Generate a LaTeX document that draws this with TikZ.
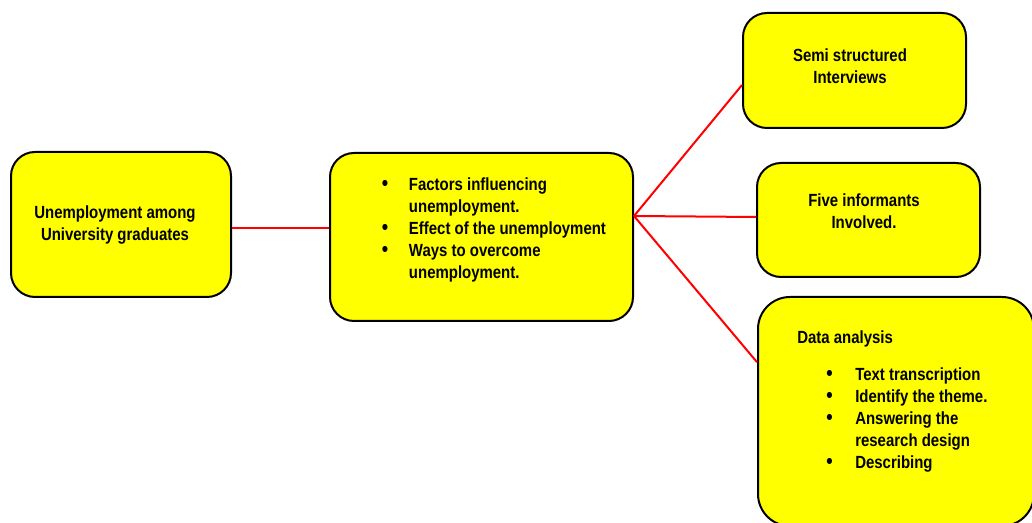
\documentclass[tikz,border=0pt]{standalone}
\usepackage{fontspec}
\setmainfont{Liberation Sans}[FakeStretch=0.85]
\usepackage{tikz}
\usetikzlibrary{positioning}
\definecolor{boxyellow}{RGB}{255,255,0}
\definecolor{linkred}{RGB}{255,0,0}
\newcommand{\bigbullet}{{\fontsize{16}{16.5}\selectfont\textbullet}}

\begin{document}
\begin{tikzpicture}[
      x=0.75pt, y=-0.75pt,
      font=\fontsize{13.2}{16.5}\selectfont\bfseries,
      topic/.style={rectangle, rounded corners=18pt, draw=black, line width=1.5pt, fill=boxyellow},
      words/.style={inner sep=0pt, align=center},
      link/.style={draw=linkred, line width=1.5pt},
    ]
    \useasboundingbox (0,0) rectangle (1032,523);
    \clip (0,0) rectangle (1032,523);
    \fill[white] (0,0) rectangle (1032,523);

    % boxes
    \node[topic, minimum width=165pt, minimum height=108.75pt] (topic) at (121,224.5) {};
    \node[topic, minimum width=227.25pt, minimum height=126pt] (aims) at (481.5,237) {};
    \node[topic, minimum width=167.25pt, minimum height=86.25pt] (semi) at (854.5,70.5) {};
    \node[topic, minimum width=167.25pt, minimum height=85.5pt] (five) at (868.5,220) {};
    \node[topic, rounded corners=24pt, minimum width=207pt, minimum height=171.75pt] (data) at (896,411.5) {};

    % texts
    \node[words] (topictext) at (115,225) {Unemployment among\\University graduates};
    \node[words] (semitext) at (850,66) {Semi structured\\Interviews};
    \node[words] (fivetext) at (864,211) {Five informants\\Involved.};
    \node[words, anchor=north west] (aimstext) at (381.7,174.6) {%
      \begin{tabular}{@{}p{20.25pt}@{}l@{}}
        \bigbullet & Factors influencing\\
                   & unemployment.\\
        \bigbullet & Effect of the unemployment\\
        \bigbullet & Ways to overcome\\
                   & unemployment.
      \end{tabular}};
    \node[words, anchor=north west] (datatext) at (797,327.6) {%
      \begin{tabular}{@{}p{21.75pt}@{}p{21.75pt}@{}l@{}}
        \multicolumn{3}{@{}l@{}}{Data analysis}\\[11.25pt]
        & \bigbullet & Text transcription\\
        & \bigbullet & Identify the theme.\\
        & \bigbullet & Answering the\\
        &            & research design\\
        & \bigbullet & Describing
      \end{tabular}};

    % connectors
    \coordinate (fork) at ([yshift=15.75pt]aims.east);
    \draw[link] ([yshift=-2.6pt]topic.east) -- ([yshift=-2.6pt]topic.east -| aims.west);
    \draw[link] (fork) -- ([yshift=-10.9pt]semi.west);
    \draw[link] (fork) -- ([yshift=2.25pt]five.west);
    \draw[link] (fork) -- ([yshift=37pt]data.west);
  \end{tikzpicture}
\end{document}
